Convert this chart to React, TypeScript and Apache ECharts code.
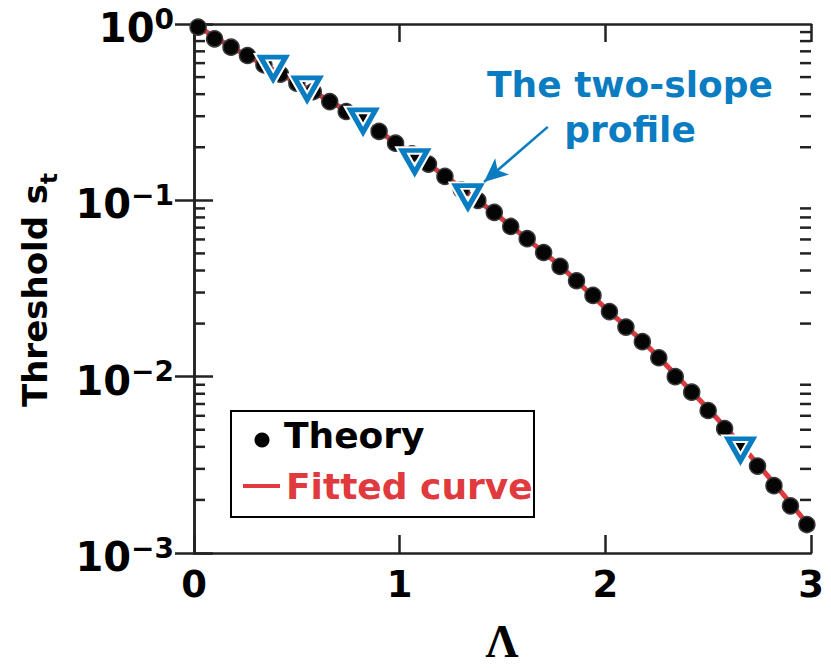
import React, { useEffect, useRef } from "react";
import * as echarts from "echarts";

const theoryX = [0.02, 0.10, 0.18, 0.26, 0.34, 0.42, 0.50, 0.58, 0.66, 0.74, 0.82, 0.90, 0.98, 1.06, 1.14, 1.22, 1.30, 1.38, 1.46, 1.54, 1.62, 1.70, 1.78, 1.86, 1.94, 2.02, 2.10, 2.18, 2.26, 2.34, 2.42, 2.50, 2.58, 2.66, 2.74, 2.82, 2.90, 2.98];
const theoryY = [0.960, 0.824, 0.739, 0.663, 0.587, 0.520, 0.462, 0.414, 0.363, 0.319, 0.283, 0.246, 0.211, 0.1837, 0.1606, 0.1367, 0.1148, 0.0999, 0.0854, 0.0711, 0.0606, 0.0506, 0.0422, 0.0350, 0.0289, 0.0234, 0.0191, 0.0158, 0.0128, 0.0100, 0.00817, 0.00643, 0.00508, 0.00400, 0.00311, 0.00241, 0.00185, 0.00145];

const fitX = [0, 0.2, 0.4, 0.6, 0.8, 1.0, 1.2, 1.4, 1.6, 1.8, 2.0, 2.2, 2.4, 2.6, 2.8, 3.0];
const fitY = [1.0, 0.72, 0.537, 0.40, 0.293, 0.205, 0.143, 0.096, 0.063, 0.0405, 0.0245, 0.0151, 0.0087, 0.0049, 0.00265, 0.00138];

const profileX = [0.385, 0.550, 0.822, 1.073, 1.332, 2.657];
const profileY = [0.562, 0.429, 0.282, 0.166, 0.105, 0.00385];

const xTickLabels = ["0", "1", "2", "3"];
const yMajorTicks = [0.001, 0.01, 0.1, 1];
const yMinorTicks = [0.002, 0.003, 0.004, 0.005, 0.006, 0.007, 0.008, 0.009, 0.02, 0.03, 0.04, 0.05, 0.06, 0.07, 0.08, 0.09, 0.2, 0.3, 0.4, 0.5, 0.6, 0.7, 0.8, 0.9];

const arrowFrom = [1.72, 0.261];
const arrowTo = [1.41, 0.127];

const FONT = "'DejaVu Sans', sans-serif";
const AXIS_COLOR = "#222";
const RED = "#e0393e";
const BLUE = "#0a7cc1";

export default function App() {
  const ref = useRef<HTMLDivElement>(null);
  useEffect(() => {
    if (!ref.current) return;
    const chart = echarts.init(ref.current, null, { renderer: "svg" });
    const axisLine = { show: true, lineStyle: { color: AXIS_COLOR, width: 2.5 } };
    const supStr = (v: number) => {
      const e = Math.round(Math.log10(v));
      return e === 0 ? "0" : "\u2212" + Math.abs(e);
    };
    chart.setOption({
      animation: false,
      grid: { left: 194, right: 20, top: 24, bottom: 115 },
      xAxis: [
        {
          type: "value", min: 0, max: 3, interval: 1, position: "bottom",
          axisLine, splitLine: { show: false },
          axisTick: { inside: true, length: 18, lineStyle: { color: AXIS_COLOR, width: 2.5 } },
          axisLabel: {
            margin: 13, fontSize: 37, lineHeight: 37, fontWeight: "bold", fontFamily: FONT, color: "#000",
            formatter: (v: number) => xTickLabels[Math.round(v)] ?? "",
          },
        },
        {
          type: "value", min: 0, max: 3, interval: 1, position: "top",
          axisLine, splitLine: { show: false },
          axisTick: { inside: true, length: 18, lineStyle: { color: AXIS_COLOR, width: 2.5 } },
          axisLabel: { show: false },
        },
      ],
      yAxis: [
        {
          type: "log", logBase: 10, min: 0.001, max: 1, interval: 1, position: "left",
          axisLine, splitLine: { show: false },
          axisTick: { inside: true, length: 19, customValues: yMajorTicks, lineStyle: { color: AXIS_COLOR, width: 2.5 } },
          axisLabel: {
            margin: 20,
            padding: [8, 0, 0, 0],
            customValues: yMajorTicks,
            formatter: (v: number) => `{b|10}{s|${supStr(v)}}`,
            rich: {
              b: { fontSize: 40, lineHeight: 40, fontWeight: "bold", fontFamily: FONT, color: "#000", verticalAlign: "bottom" },
              s: { fontSize: 28, lineHeight: 28, fontWeight: "bold", fontFamily: FONT, color: "#000", verticalAlign: "bottom", padding: [0, 0, 15, 0] },
            },
          },
        },
        {
          type: "log", logBase: 10, min: 0.001, max: 1, interval: 1, position: "right",
          axisLine, splitLine: { show: false },
          axisTick: { inside: true, length: 19, customValues: yMajorTicks, lineStyle: { color: AXIS_COLOR, width: 2.5 } },
          axisLabel: { show: false },
        },
      ],
      series: [
        {
          type: "custom", name: "minor ticks", xAxisIndex: 0, yAxisIndex: 0, silent: true, z: 1,
          data: yMinorTicks.map((v) => [0, v]),
          renderItem: (params: any, api: any) => {
            const p = api.coord([0, api.value(1)]);
            const cs = params.coordSys;
            const st = { stroke: AXIS_COLOR, lineWidth: 2.5 };
            return {
              type: "group",
              children: [
                { type: "line", shape: { x1: cs.x, y1: p[1], x2: cs.x + 11, y2: p[1] }, style: st },
                { type: "line", shape: { x1: cs.x + cs.width - 11, y1: p[1], x2: cs.x + cs.width, y2: p[1] }, style: st },
              ],
            };
          },
        },
        {
          type: "line", name: "Fitted curve", z: 2, smooth: 0.3, showSymbol: false,
          data: fitX.map((x, i) => [x, fitY[i]]),
          lineStyle: { color: RED, width: 5 },
        },
        {
          type: "scatter", name: "Theory", z: 3, symbol: "circle", symbolSize: 16,
          data: theoryX.map((x, i) => [x, theoryY[i]]),
          itemStyle: { color: "#050505", borderColor: "#3a3a3a", borderWidth: 1.5, opacity: 1 },
        },
        {
          type: "scatter", name: "profile-halo", z: 4, symbol: "triangle", symbolRotate: 180, symbolSize: [25, 22],
          data: profileX.map((x, i) => [x, profileY[i]]),
          itemStyle: { color: "rgba(0,0,0,0)", borderColor: "#fff", borderWidth: 9, opacity: 1 },
        },
        {
          type: "scatter", name: "The two-slope profile", z: 5, symbol: "triangle", symbolRotate: 180, symbolSize: [25, 22],
          data: profileX.map((x, i) => [x, profileY[i]]),
          itemStyle: { color: "rgba(0,0,0,0)", borderColor: BLUE, borderWidth: 5, opacity: 1 },
          markLine: {
            silent: true, symbol: ["none", "arrow"], symbolSize: [16, 24],
            label: { show: false },
            lineStyle: { color: BLUE, width: 2.5, type: "solid" },
            data: [[{ coord: arrowFrom }, { coord: arrowTo }]],
          },
        },
      ],
      graphic: [
        {
          type: "text", x: 630, y: 107, z: 10,
          style: {
            text: "The two-slope\nprofile", align: "center", verticalAlign: "middle",
            fontSize: 36, lineHeight: 45, fontWeight: "bold", fontFamily: FONT, fill: BLUE,
          },
        },
        {
          type: "rect", z: 10, shape: { x: 231, y: 411, width: 303, height: 106 },
          style: { fill: "#fff", stroke: "#000", lineWidth: 2 },
        },
        { type: "circle", z: 11, shape: { cx: 262, cy: 440, r: 7.5 }, style: { fill: "#000" } },
        { type: "line", z: 11, shape: { x1: 243, y1: 486, x2: 280, y2: 486 }, style: { stroke: RED, lineWidth: 4 } },
        {
          type: "text", z: 11, x: 284, y: 435.5,
          style: { text: "Theory", align: "left", verticalAlign: "middle", fontSize: 36, fontWeight: "bold", fontFamily: FONT, fill: "#000" },
        },
        {
          type: "text", z: 11, x: 286, y: 486.5,
          style: { text: "Fitted curve", align: "left", verticalAlign: "middle", fontSize: 36, fontWeight: "bold", fontFamily: FONT, fill: RED },
        },
        {
          type: "text", z: 11, x: 43, y: 290, rotation: Math.PI / 2,
          style: {
            text: "{a|Threshold s}{b|t}", align: "center", verticalAlign: "middle",
            rich: {
              a: { fontSize: 34, lineHeight: 34, fontWeight: "bold", fontFamily: FONT, fill: "#000", verticalAlign: "bottom", padding: [0, 0, 8, 0] },
              b: { fontSize: 23, lineHeight: 23, fontWeight: "bold", fontFamily: FONT, fill: "#000", verticalAlign: "bottom" },
            },
          },
        },
        {
          type: "text", z: 11, x: 502, y: 641,
          style: { text: "Λ", align: "center", verticalAlign: "middle", fontSize: 46, fontWeight: "bold", fontFamily: "'Liberation Serif', serif", fill: "#000" },
        },
      ],
    });
    return () => chart.dispose();
  }, []);
  return <div ref={ref} style={{ position: "fixed", left: 0, top: 0, width: 831, height: 668, background: "#fff" }} />;
}
